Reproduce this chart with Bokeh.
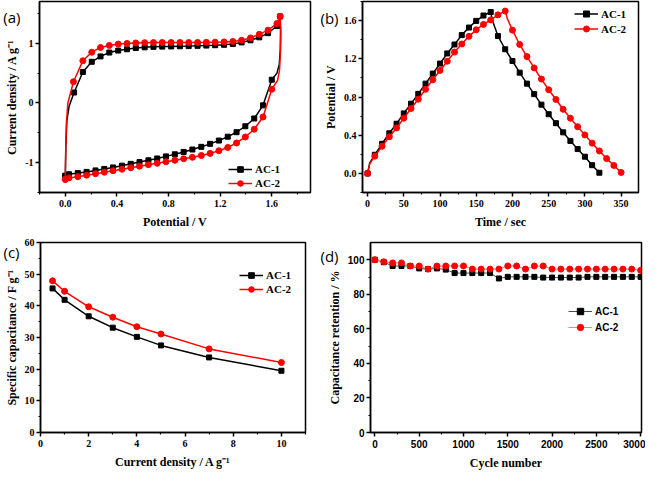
from bokeh.plotting import figure
from bokeh.layouts import column, row
from bokeh.models import Range1d, FixedTicker, Legend, LegendItem, LinearAxis
from bokeh.embed import file_html
from bokeh.resources import INLINE

# ---------------- (a) cyclic voltammetry ----------------
cv_ac1_v = [0.0, 0.004, 0.012, 0.03, 0.068, 0.136, 0.205, 0.273, 0.341, 0.41, 0.478, 0.546, 0.615,
            0.683, 0.751, 0.82, 0.888, 0.956, 1.025, 1.093, 1.161, 1.23, 1.298, 1.366, 1.435, 1.503,
            1.571, 1.64, 1.665,
            1.668, 1.666, 1.658, 1.64,
            1.6, 1.532, 1.464, 1.395, 1.327, 1.259, 1.19, 1.122, 1.054, 0.985, 0.917, 0.849, 0.78,
            0.712, 0.644, 0.575, 0.507, 0.439, 0.37, 0.302, 0.234, 0.165, 0.097, 0.029, 0.0]
cv_ac1_i = [-1.22, -0.75, -0.3, -0.05, 0.175, 0.52, 0.69, 0.78, 0.845, 0.878, 0.9, 0.92, 0.932,
            0.94, 0.944, 0.947, 0.95, 0.953, 0.957, 0.962, 0.968, 0.975, 0.99, 1.015, 1.05, 1.1,
            1.17, 1.29, 1.45,
            1.2, 0.9, 0.65, 0.5,
            0.39, -0.04, -0.26, -0.39, -0.49, -0.565, -0.63, -0.685, -0.735, -0.78, -0.82, -0.86,
            -0.895, -0.93, -0.96, -0.99, -1.02, -1.05, -1.08, -1.105, -1.13, -1.155, -1.175, -1.195, -1.22]
cv_ac1_mark = [1, 0, 0, 0] + [1] * 25 + [0, 0, 0, 0] + [1] * 25

cv_ac2_v = [0.0, 0.003, 0.008, 0.02, 0.063, 0.136, 0.205, 0.273, 0.341, 0.41, 0.478, 0.546, 0.615,
            0.683, 0.751, 0.82, 0.888, 0.956, 1.025, 1.093, 1.161, 1.23, 1.298, 1.366, 1.435, 1.503,
            1.571, 1.64, 1.665,
            1.67, 1.668, 1.66, 1.645,
            1.6, 1.532, 1.464, 1.395, 1.327, 1.259, 1.19, 1.122, 1.054, 0.985, 0.917, 0.849, 0.78,
            0.712, 0.644, 0.575, 0.507, 0.439, 0.37, 0.302, 0.234, 0.165, 0.097, 0.029, 0.0]
cv_ac2_i = [-1.28, -0.8, -0.35, 0.0, 0.356, 0.707, 0.85, 0.93, 0.964, 0.986, 0.997, 1.005, 1.01,
            1.012, 1.013, 1.013, 1.013, 1.013, 1.014, 1.016, 1.019, 1.023, 1.03, 1.05, 1.09, 1.15,
            1.22, 1.33, 1.45,
            1.2, 0.9, 0.55, 0.38,
            0.23, -0.235, -0.44, -0.57, -0.67, -0.745, -0.8, -0.845, -0.88, -0.91, -0.935, -0.96,
            -0.985, -1.01, -1.035, -1.06, -1.085, -1.11, -1.135, -1.16, -1.185, -1.21, -1.235, -1.255, -1.28]
cv_ac2_mark = [1, 0, 0, 0] + [1] * 25 + [0, 0, 0, 0] + [1] * 25

a_x_ticks = [0.0, 0.4, 0.8, 1.2, 1.6]
a_x_labels = ["0.0", "0.4", "0.8", "1.2", "1.6"]
a_y_ticks = [-1, 0, 1]
a_y_labels = ["-1", "0", "1"]

# ---------------- (b) charge / discharge ----------------
gcd_ac1_t = [0, 3, 10, 20, 30, 40, 50, 60, 70, 80, 90, 100, 110, 120, 130, 140, 150, 160, 170, 172,
             180, 190, 200, 210, 220, 230, 240, 250, 260, 270, 280, 290, 300, 310, 320]
gcd_ac1_v = [0.0, 0.11, 0.195, 0.31, 0.42, 0.52, 0.628, 0.73, 0.833, 0.94, 1.045, 1.15, 1.256, 1.35,
             1.448, 1.527, 1.597, 1.653, 1.69, 1.61,
             1.438, 1.30, 1.177, 1.055, 0.94, 0.83, 0.72, 0.62, 0.526, 0.43, 0.34, 0.255, 0.175, 0.086, 0.007]
gcd_ac1_mark = [1, 0] + [1] * 17 + [0] + [1] * 15

gcd_ac2_t = [0, 3, 10, 20, 30, 40, 50, 60, 70, 80, 90, 100, 110, 120, 130, 140, 150, 160, 170, 180, 190,
             193, 200, 210, 220, 230, 240, 250, 260, 270, 280, 290, 300, 310, 320, 330, 340, 350]
gcd_ac2_v = [0.0, 0.10, 0.18, 0.284, 0.383, 0.476, 0.578, 0.68, 0.777, 0.88, 0.98, 1.078, 1.174, 1.27,
             1.355, 1.435, 1.504, 1.56, 1.607, 1.66, 1.70,
             1.62, 1.50, 1.35, 1.223, 1.104, 0.988, 0.876, 0.774, 0.671, 0.578, 0.489, 0.403, 0.317,
             0.235, 0.155, 0.083, 0.01]
gcd_ac2_mark = [1, 0] + [1] * 19 + [0] + [1] * 16

b_x_ticks = [0, 50, 100, 150, 200, 250, 300, 350]
b_x_labels = ["0", "50", "100", "150", "200", "250", "300", "350"]
b_y_ticks = [0.0, 0.4, 0.8, 1.2, 1.6]
b_y_labels = ["0.0", "0.4", "0.8", "1.2", "1.6"]

# ---------------- (c) rate capability ----------------
rate_j = [0.5, 1, 2, 3, 4, 5, 7, 10]
rate_ac1 = [45.5, 41.9, 36.7, 33.1, 30.2, 27.5, 23.7, 19.5]
rate_ac2 = [47.9, 44.6, 39.7, 36.4, 33.4, 31.1, 26.4, 22.1]

c_x_ticks = [0, 2, 4, 6, 8, 10]
c_x_labels = ["0", "2", "4", "6", "8", "10"]
c_y_ticks = [0, 10, 20, 30, 40, 50, 60]
c_y_labels = ["0", "10", "20", "30", "40", "50", "60"]

# ---------------- (d) cycling stability ----------------
cycles = [0, 100, 200, 300, 400, 500, 600, 700, 800, 900, 1000, 1100, 1200, 1300, 1400, 1500,
          1600, 1700, 1800, 1900, 2000, 2100, 2200, 2300, 2400, 2500, 2600, 2700, 2800, 2900, 3000]
ret_ac1 = [100, 98.6, 96.4, 96.4, 96.4, 95.0, 94.6, 95.0, 94.3, 92.3, 92.3, 92.3, 92.3, 92.3, 89.2,
           90.1, 90.1, 90.1, 90.1, 89.7, 89.7, 89.7, 89.7, 89.7, 90.1, 90.1, 90.1, 90.1, 90.1, 90.1, 90.1]
ret_ac2 = [100, 98.8, 98.2, 98.2, 96.4, 96.4, 94.6, 96.4, 96.4, 96.4, 96.4, 94.6, 94.6, 94.6, 94.6,
           96.4, 96.4, 94.6, 96.4, 96.4, 94.6, 94.6, 94.6, 94.6, 94.6, 94.6, 94.6, 94.6, 94.6, 94.6, 93.9]

d_x_ticks = [0, 500, 1000, 1500, 2000, 2500, 3000]
d_x_labels = ["0", "500", "1000", "1500", "2000", "2500", "3000"]
d_y_ticks = [0, 20, 40, 60, 80, 100]
d_y_labels = ["0", "20", "40", "60", "80", "100"]

series_names = ["AC-1", "AC-2"]
panel_names = ["(a)", "(b)", "(c)", "(d)"]

SERIF = "Liberation Serif"
SANS = "Liberation Sans"
BLACK = "#000000"
RED = "#ff0000"


def make_fig(w, h, xr, yr, bl, br, bt, bb):
    p = figure(width=w, height=h, x_range=Range1d(*xr), y_range=Range1d(*yr),
               output_backend="svg", toolbar_location=None,
               min_border_left=bl, min_border_right=br, min_border_top=bt, min_border_bottom=bb)
    p.xgrid.visible = False
    p.ygrid.visible = False
    p.outline_line_color = "black"
    p.outline_line_width = 1.5
    p.outline_line_alpha = 1.0
    p.background_fill_color = "white"
    p.border_fill_color = "white"
    return p


def style_axis(ax, ticks, minor, labels, title, tick_font, tick_size, xlike):
    ax.ticker = FixedTicker(ticks=ticks, minor_ticks=minor)
    ax.major_label_overrides = {t: l for t, l in zip(ticks, labels)}
    ax.axis_label = title
    ax.axis_label_text_font = SERIF
    ax.axis_label_text_font_style = "bold"
    ax.axis_label_text_font_size = "12px"
    ax.axis_label_text_color = "black"
    ax.major_label_text_font = tick_font
    ax.major_label_text_font_style = "bold"
    ax.major_label_text_font_size = tick_size
    ax.major_label_text_color = "black"
    ax.axis_line_width = 1.5
    ax.major_tick_line_width = 1.5
    ax.minor_tick_line_width = 1.2
    ax.major_tick_in = 0
    ax.major_tick_out = 4
    ax.minor_tick_in = 0
    ax.minor_tick_out = 2
    if xlike:
        ax.major_label_standoff = 3
        ax.axis_label_standoff = 5
    else:
        ax.major_label_standoff = 2
        ax.axis_label_standoff = 3


def add_legend(p, items, loc, font, size, row_h):
    lg = Legend(items=items, location=loc)
    lg.background_fill_alpha = 0
    lg.border_line_alpha = 0
    lg.padding = 0
    lg.margin = 0
    lg.spacing = 0
    lg.glyph_width = 24
    lg.glyph_height = row_h
    lg.label_height = row_h
    lg.label_standoff = 3
    lg.label_text_font = font
    lg.label_text_font_style = "bold"
    lg.label_text_font_size = size
    lg.label_text_color = "black"
    p.add_layout(lg)


def panel_label(p, text, ypos, shift):
    # panel letter drawn as the single tick label of an extra, invisible left axis
    ax = LinearAxis(ticker=FixedTicker(ticks=[ypos], minor_ticks=[]),
                    major_label_overrides={ypos: text})
    ax.axis_line_color = None
    ax.major_tick_line_color = None
    ax.minor_tick_line_color = None
    ax.major_tick_in = 0
    ax.major_tick_out = 0
    ax.minor_tick_in = 0
    ax.minor_tick_out = 0
    ax.major_label_standoff = -shift
    ax.major_label_text_font = "Open Sans"
    ax.major_label_text_font_size = "15px"
    ax.major_label_text_color = "black"
    p.add_layout(ax, "left")


def sel(vals, mark):
    return [v for v, m in zip(vals, mark) if m]


# ---------------- panel (a) ----------------
pa = make_fig(317, 238, (-0.2, 1.9), (-1.5, 1.7), 31, 7, 1, 46)
style_axis(pa.xaxis[0], a_x_ticks, [-0.2, 0.2, 0.6, 1.0, 1.4, 1.8], a_x_labels,
           "Potential / V", SERIF, "10px", True)
style_axis(pa.yaxis[0], a_y_ticks, [-1.5, -0.5, 0.5, 1.5], a_y_labels,
           "Current density / A g\u207b\u00b9", SERIF, "10px", False)
la1 = pa.line(cv_ac1_v, cv_ac1_i, line_color=BLACK, line_width=1.5)
ma1 = pa.scatter(sel(cv_ac1_v, cv_ac1_mark), sel(cv_ac1_i, cv_ac1_mark), marker="square",
                 size=5, fill_color=BLACK, line_color=BLACK)
la2 = pa.line(cv_ac2_v, cv_ac2_i, line_color=RED, line_width=1.5)
ma2 = pa.scatter(sel(cv_ac2_v, cv_ac2_mark), sel(cv_ac2_i, cv_ac2_mark), marker="circle",
                 size=6, fill_color=RED, line_color=RED)
add_legend(pa, [LegendItem(label=series_names[0], renderers=[la1, ma1]),
                LegendItem(label=series_names[1], renderers=[la2, ma2])],
           (189, 2), SERIF, "11px", 14)
panel_label(pa, panel_names[0], 1.66, 18)

# ---------------- panel (b) ----------------
pb = make_fig(328, 238, (-7, 374), (-0.2, 1.8), 43, 7, 1, 42)
style_axis(pb.xaxis[0], b_x_ticks, [25, 75, 125, 175, 225, 275, 325], b_x_labels,
           "Time / sec", SERIF, "10px", True)
style_axis(pb.yaxis[0], b_y_ticks, [-0.2, 0.2, 0.6, 1.0, 1.4, 1.8], b_y_labels,
           "Potential / V", SERIF, "10px", False)
lb1 = pb.line(gcd_ac1_t, gcd_ac1_v, line_color=BLACK, line_width=1.5)
mb1 = pb.scatter(sel(gcd_ac1_t, gcd_ac1_mark), sel(gcd_ac1_v, gcd_ac1_mark), marker="square",
                 size=5, fill_color=BLACK, line_color=BLACK)
lb2 = pb.line(gcd_ac2_t, gcd_ac2_v, line_color=RED, line_width=1.5)
mb2 = pb.scatter(sel(gcd_ac2_t, gcd_ac2_mark), sel(gcd_ac2_v, gcd_ac2_mark), marker="circle",
                 size=6, fill_color=RED, line_color=RED)
add_legend(pb, [LegendItem(label=series_names[0], renderers=[lb1, mb1]),
                LegendItem(label=series_names[1], renderers=[lb2, mb2])],
           (212, 156), SERIF, "11px", 15)
panel_label(pb, panel_names[1], 1.78, 18)

# ---------------- panel (c) ----------------
pc = make_fig(317, 234, (0, 11), (0, 60), 28, 12, 4, 30)
style_axis(pc.xaxis[0], c_x_ticks, [1, 3, 5, 7, 9, 11], c_x_labels,
           "Current density / A g\u207b\u00b9", SERIF, "10px", True)
style_axis(pc.yaxis[0], c_y_ticks, [5, 15, 25, 35, 45, 55], c_y_labels,
           "Specific capacitance / F g\u207b\u00b9", SERIF, "10px", False)
lc1 = pc.line(rate_j, rate_ac1, line_color=BLACK, line_width=1.5)
mc1 = pc.scatter(rate_j, rate_ac1, marker="square", size=5, fill_color=BLACK, line_color=BLACK)
lc2 = pc.line(rate_j, rate_ac2, line_color=RED, line_width=1.5)
mc2 = pc.scatter(rate_j, rate_ac2, marker="circle", size=6, fill_color=RED, line_color=RED)
add_legend(pc, [LegendItem(label=series_names[0], renderers=[lc1, mc1]),
                LegendItem(label=series_names[1], renderers=[lc2, mc2])],
           (199, 136), SERIF, "11px", 14)
panel_label(pc, panel_names[2], 57.0, 18)

# ---------------- panel (d) ----------------
pd_ = make_fig(328, 234, (-50, 3010), (0, 110), 46, 4, 1, 32)
style_axis(pd_.xaxis[0], d_x_ticks, [250, 750, 1250, 1750, 2250, 2750], d_x_labels,
           "Cycle number", SANS, "10px", True)
style_axis(pd_.yaxis[0], d_y_ticks, [10, 30, 50, 70, 90], d_y_labels,
           "Capacitance retention / %", SANS, "10px", False)
ld1 = pd_.line(cycles, ret_ac1, line_color="#3f5555", line_width=1)
md1 = pd_.scatter(cycles, ret_ac1, marker="square", size=5, fill_color=BLACK, line_color=BLACK)
ld2 = pd_.line(cycles, ret_ac2, line_color="#ff7f7f", line_width=1)
md2 = pd_.scatter(cycles, ret_ac2, marker="circle", size=6, fill_color=RED, line_color=RED)
add_legend(pd_, [LegendItem(label=series_names[0], renderers=[ld1, md1]),
                 LegendItem(label=series_names[1], renderers=[ld2, md2])],
           (198, 97), SANS, "10px", 16)
panel_label(pd_, panel_names[3], 102.0, 14)

layout = column(row(pa, pb), row(pc, pd_))
open("out.html", "w").write(file_html(layout, INLINE))
